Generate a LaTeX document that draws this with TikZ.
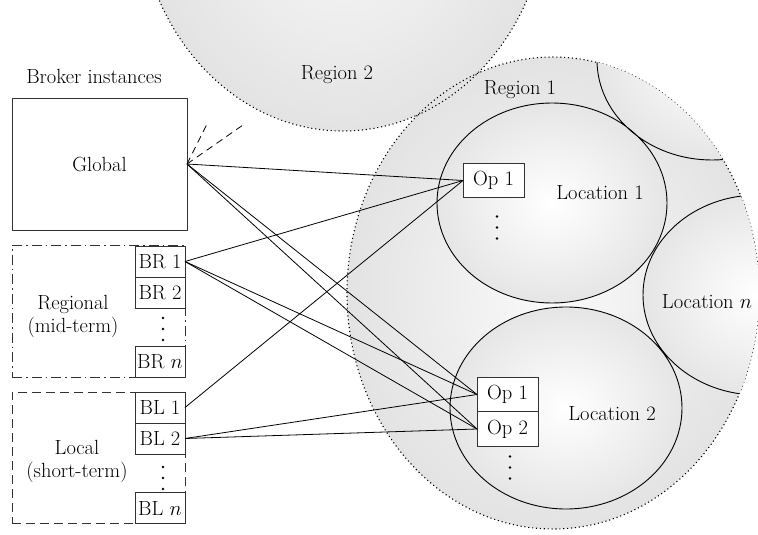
\documentclass[tikz,border=0pt]{standalone}
\usetikzlibrary{positioning}
% trois points verticaux
\newcommand{\pointsv}[1]{\foreach \k in {-11,0,11} \fill (#1) ++(0,\k) circle (1.3pt);}
\begin{document}
\begin{tikzpicture}[x=1pt,y=-1pt,
  every node/.style={font=\fontsize{20.5}{23}\selectfont},
  boite/.style={draw=black!80, line width=0.9pt, fill=white, minimum width=50pt,
    minimum height=31pt, inner sep=0pt, outer sep=0pt},
  opboite/.style={boite, minimum width=61pt, minimum height=34.5pt},
  groupe/.style={draw=black!80, line width=0.8pt, minimum width=173pt,
    inner sep=0pt, outer sep=0pt},
  fond/.style={inner color=white!98!black, outer color=white!89!black},
  bord/.style={line width=1.1pt, dash pattern=on 1.1pt off 2.8pt},
  lieu/.style={inner color=white, outer color=white!90!black},
  lien/.style={line width=0.8pt}]
\useasboundingbox (0,0) rectangle (758,535);
\clip (0,0) rectangle (758,535);

% Les deux régions (la région 2 sort en haut de la figure)
\shade[fond] (343,-104) ellipse [x radius=205pt, y radius=235pt];
\shade[fond] (553,293) ellipse [x radius=206pt, y radius=236pt];
\draw[bord] (343,-104) ellipse [x radius=205pt, y radius=235pt];
\draw[bord] (553,293) ellipse [x radius=206pt, y radius=236pt];

% Les lieux, coupés par le bord de la région 1
\begin{scope}
  \clip (553,293) ellipse [x radius=206pt, y radius=236pt];
  \shade[lieu] (712,60) ellipse [x radius=115pt, y radius=100pt];
  \shade[lieu] (758,295) ellipse [x radius=115pt, y radius=100pt];
  \shade[lieu] (552,203) ellipse [x radius=115pt, y radius=100pt];
  \shade[lieu] (566,408) ellipse [x radius=116pt, y radius=101pt];
  \draw[line width=0.9pt] (712,60) ellipse [x radius=115pt, y radius=100pt]
    (758,295) ellipse [x radius=115pt, y radius=100pt]
    (552,203) ellipse [x radius=115pt, y radius=100pt]
    (566,408) ellipse [x radius=116pt, y radius=101pt];
\end{scope}

\node (reg2) at (337,75) {Region 2};
\node (reg1) at (520,90) {Region 1};
\node (lieu1) at (600,193) {Location 1};
\node (lieu2) at (612,414) {Location 2};
\node (lieun) at (707,302) {Location $n$};

% Les courtiers, à gauche
\node (titre) at (94,76) {Broker instances};
\node[boite, minimum width=175pt, minimum height=132pt] (global) at (99.5,164) {Global};

% Régional : trait mixte, local : tirets
\node[groupe, minimum height=132pt, dash pattern=on 10pt off 4pt on 1.5pt off 4pt]
  (regional) at (98.5,311) {};
\node[groupe, minimum height=131pt, dash pattern=on 9pt off 5pt]
  (local) at (98.5,457.5) {};
\node[align=center] (regionaltxt) at (73,316) {Regional\\(mid-term)};
\node[align=center] (localtxt) at (77,461) {Local\\(short-term)};

\node[boite] (br1) at (160,261.5) {BR 1};
\node[boite, below=0pt of br1] (br2) {BR 2};
\coordinate (brpts) at (163,329);
\pointsv{brpts}
\node[boite] (brn) at (160,362) {BR $n$};

\node[boite] (bl1) at (160,407.5) {BL 1};
\node[boite, below=0pt of bl1] (bl2) {BL 2};
\coordinate (blpts) at (163,478);
\pointsv{blpts}
\node[boite] (bln) at (160,508) {BL $n$};

% Les opérateurs dans les lieux
\node[opboite] (op11) at (493.5,180.5) {Op 1};
\coordinate (oppts1) at (497,227.5);
\pointsv{oppts1}
\node[opboite] (op21) at (507.5,394.5) {Op 1};
\node[opboite, below=0pt of op21] (op22) {Op 2};
\coordinate (oppts2) at (510,467.5);
\pointsv{oppts2}

% Liens vers les autres régions
\coordinate (autre1) at (208,122);
\coordinate (autre2) at (243,125);
\draw[lien, dash pattern=on 7pt off 5pt] (global.east) -- (autre1);
\draw[lien, dash pattern=on 7pt off 5pt] (global.east) -- (autre2);

% Liens courtier -- opérateur
\draw[lien] (global.east) -- (op11.west);
\draw[lien] (global.east) -- (op21.west);
\draw[lien] (global.east) -- (op22.west);
\draw[lien] (br1.east) -- (op11.west);
\draw[lien] (br1.east) -- (op21.west);
\draw[lien] (br1.east) -- (op22.west);
\draw[lien] (bl1.east) -- (op11.west);
\draw[lien] (bl2.east) -- (op21.west);
\draw[lien] (bl2.east) -- (op22.west);
\end{tikzpicture}
\end{document}
